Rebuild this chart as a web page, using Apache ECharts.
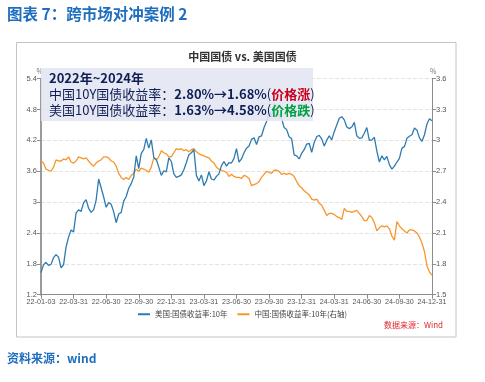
<!DOCTYPE html>
<html><head><meta charset="utf-8">
<script src="https://cdn.jsdelivr.net/npm/echarts@6/dist/echarts.min.js"></script>
<style>html,body{margin:0;padding:0;background:#fff;}#c{width:485px;height:382px;}</style>
</head><body><div id="c"></div>
<script>
const tickLabels = ['22-01-03','22-03-31','22-06-30','22-09-30','22-12-31','23-03-31','23-06-30','23-09-30','23-12-31','24-03-31','24-06-30','24-09-30','24-12-31'];

// US 10Y yield (left axis), weekly, 2022-01-03 .. 2024-12-30
const usYield = [
1.63,1.78,1.83,1.77,1.79,1.92,1.98,1.93,1.72,1.78,2.13,2.32,2.46,2.42,2.79,2.85,2.82,2.99,3.05,2.88,
2.80,2.85,3.04,3.45,3.28,3.10,2.90,2.99,2.96,2.81,2.60,2.77,2.80,3.02,3.11,3.27,3.36,3.49,3.90,3.65,
3.95,4.02,4.24,4.05,4.21,3.87,3.83,3.68,3.52,3.61,3.59,3.86,
3.79,3.55,3.48,3.50,3.53,3.63,3.77,3.92,3.96,4.02,3.52,3.41,3.53,3.32,3.41,3.59,3.45,3.43,3.50,3.55,
3.71,3.79,3.70,3.77,3.76,3.85,4.04,3.78,3.84,3.96,4.05,4.09,4.22,4.25,4.12,4.27,4.29,4.45,4.57,4.78,
4.66,4.91,4.87,4.67,4.63,4.45,4.41,4.27,4.23,3.92,3.90,3.84,
3.95,4.02,4.13,4.14,3.97,4.16,4.27,4.30,4.23,4.09,4.20,4.29,4.21,4.37,4.50,4.63,4.66,4.60,4.46,4.43,
4.46,4.55,4.29,4.24,4.25,4.34,4.45,4.20,4.21,4.26,3.99,3.78,3.90,3.82,3.89,3.73,3.64,3.70,3.78,3.85,
4.05,4.08,4.24,4.28,4.31,4.44,4.40,4.25,4.18,4.31,4.52,4.62,4.58
];

// China 10Y yield (right axis), weekly
const cnYield = [
2.80,2.78,2.72,2.71,2.70,2.74,2.81,2.80,2.80,2.82,2.81,2.84,2.79,2.78,2.80,2.84,2.83,2.82,2.83,2.80,
2.77,2.75,2.78,2.80,2.81,2.84,2.84,2.83,2.80,2.79,2.75,2.68,2.64,2.62,2.64,2.62,2.66,2.68,2.72,2.70,
2.73,2.72,2.71,2.69,2.74,2.83,2.81,2.84,2.90,2.88,2.87,2.84,
2.84,2.88,2.92,2.91,2.92,2.90,2.91,2.89,2.91,2.92,2.89,2.87,2.86,2.85,2.84,2.83,2.80,2.78,2.74,2.72,
2.71,2.70,2.69,2.65,2.67,2.65,2.64,2.64,2.63,2.66,2.65,2.63,2.56,2.57,2.58,2.60,2.64,2.67,2.70,2.69,
2.68,2.71,2.71,2.70,2.67,2.68,2.67,2.68,2.67,2.65,2.60,2.56,
2.54,2.51,2.49,2.47,2.43,2.42,2.43,2.39,2.37,2.32,2.27,2.29,2.29,2.28,2.26,2.25,2.23,2.34,2.31,2.31,
2.30,2.31,2.32,2.29,2.26,2.22,2.22,2.27,2.25,2.20,2.12,2.15,2.17,2.16,2.17,2.14,2.07,2.03,2.21,2.17,
2.14,2.12,2.10,2.13,2.13,2.12,2.10,2.06,2.00,1.92,1.78,1.72,1.69
];

const leftTicks = {min:1.2, max:5.4, interval:0.6};
const rightTicks = {min:1.5, max:3.6, interval:0.3};

const seriesNames = ['美国:国债收益率:10年','中国:国债收益率:10年(右轴)'];

// weekly category dates
const categories = [];
(function(){const d0=new Date(Date.UTC(2022,0,3));for(let i=0;i<usYield.length;i++){const d=new Date(d0.getTime()+i*7*86400000);categories.push(d.toISOString().slice(2,10));}})();

const FONT = '"Noto Sans CJK SC","Noto Sans",sans-serif';
const NUMFONT = '"Liberation Sans",Arial,sans-serif';
const chart = echarts.init(document.getElementById('c'));
const axisGray = '#8c8c8c';
chart.setOption({
  animation:false,
  textStyle:{fontFamily:FONT},
  title:{text:'中国国债 vs. 美国国债', left:'center', top:46, textStyle:{fontSize:11, fontWeight:'bold', color:'#333', fontFamily:FONT}},
  grid:{left:41, right:53, top:78.7, bottom:87.3},
  legend:{data:seriesNames, bottom:59, left:'center', icon:'rect', itemWidth:12, itemHeight:2, itemGap:10,
    textStyle:{fontSize:7.5, color:'#444', fontFamily:FONT}},
  xAxis:{type:'category', data:categories, boundaryGap:false,
    axisLine:{lineStyle:{color:axisGray}},
    axisTick:{interval:12, length:4, lineStyle:{color:axisGray}},
    axisLabel:{interval:12, fontSize:7.2, color:'#555', margin:4, fontFamily:NUMFONT,
      formatter:(v,idx)=>tickLabels[Math.round(idx/13)]||''},
    splitLine:{show:false}},
  yAxis:[
    {type:'value', min:leftTicks.min, max:leftTicks.max, interval:leftTicks.interval, name:'%', nameGap:4,
     nameTextStyle:{fontSize:7, color:'#777', align:'right', padding:[0,-2,0,0]},
     axisLine:{show:true, lineStyle:{color:'#9a9a9a', width:2}},
     axisTick:{show:true, length:4, lineStyle:{color:axisGray}},
     axisLabel:{fontSize:7.5, color:'#555', margin:4, fontFamily:NUMFONT, formatter:v=>String(+v.toFixed(1))},
     splitLine:{lineStyle:{color:'#e3e3e3', type:'dashed'}}},
    {type:'value', min:rightTicks.min, max:rightTicks.max, interval:rightTicks.interval, name:'%', nameGap:4,
     nameTextStyle:{fontSize:7, color:'#777', align:'left', padding:[0,0,0,-2]},
     axisLine:{show:true, lineStyle:{color:axisGray}},
     axisTick:{show:true, length:4, lineStyle:{color:axisGray}},
     axisLabel:{fontSize:7.5, color:'#555', margin:4, fontFamily:NUMFONT, formatter:v=>String(+v.toFixed(1))},
     splitLine:{show:false}}
  ],
  series:[
    {name:seriesNames[0], type:'line', data:usYield, yAxisIndex:0, showSymbol:false, symbol:'none',
     lineStyle:{width:1.3, color:'#2e7bb0'}, itemStyle:{color:'#2e7bb0'}, z:3},
    {name:seriesNames[1], type:'line', data:cnYield, yAxisIndex:1, showSymbol:false, symbol:'none',
     lineStyle:{width:1.3, color:'#f7962d'}, itemStyle:{color:'#f7962d'}, z:2}
  ],
  graphic:[
    {type:'rect', shape:{x:16.5, y:42.5, width:439.5, height:294.5}, style:{fill:'none', stroke:'#c4c4c4', lineWidth:1}, z:-1, silent:true},
    {type:'text', left:7, top:6, style:{text:'图表 7：跨市场对冲案例 2', fill:'#1e6dbf', font:'bold 15.5px '+FONT}},
    {type:'text', left:7, top:352, style:{text:'资料来源：wind', fill:'#1e6dbf', font:'bold 12px '+FONT}},
    {type:'text', right:42, top:321, style:{text:'数据来源：Wind', fill:'#e0262a', font:'8px '+FONT}},
    {type:'rect', shape:{x:41, y:68, width:272, height:53}, style:{fill:'rgba(226,230,243,0.88)'}, z:100, silent:true},
    {type:'text', left:49, top:72, z:101, style:{
      text:'{b|2022年~2024年}\n{n|中国10Y国债收益率：}{b|2.80%→1.68%}{n|(}{r|价格涨}{n|)}\n{n|美国10Y国债收益率：}{b|1.63%→4.58%}{n|(}{g|价格跌}{n|)}',
      rich:{
        b:{fontSize:13, fontWeight:'bold', fill:'#0f1f55', color:'#0f1f55', fontFamily:FONT, lineHeight:16},
        n:{fontSize:13, fill:'#0f1f55', color:'#0f1f55', fontFamily:FONT, lineHeight:16},
        r:{fontSize:13, fontWeight:'bold', fill:'#c8001e', color:'#c8001e', fontFamily:FONT, lineHeight:16},
        g:{fontSize:13, fontWeight:'bold', fill:'#00a040', color:'#00a040', fontFamily:FONT, lineHeight:16}
      }}}
  ]
});
</script></body></html>
